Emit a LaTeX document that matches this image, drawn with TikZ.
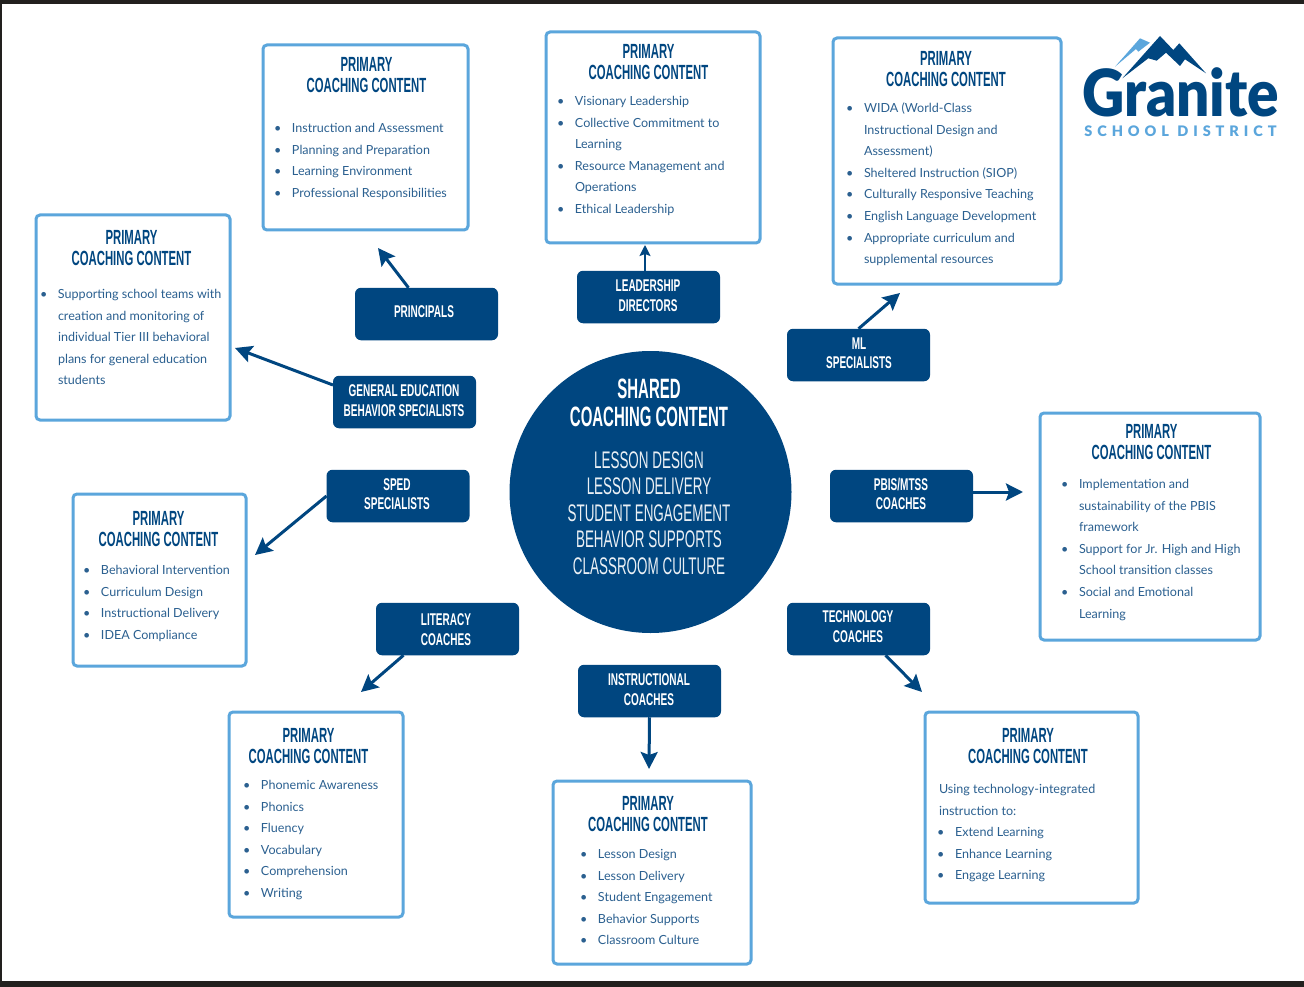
\documentclass[tikz,border=0pt]{standalone}
\usepackage{fontspec}
\setmainfont{Lato}
\newfontfamily\bebas[FakeStretch=0.56]{Liberation Sans}
\newfontfamily\bebasb[FakeStretch=0.553]{Liberation Sans Bold}
\newfontfamily\bebasr[FakeStretch=0.59]{Liberation Sans Bold}
\newfontfamily\bebasc[FakeStretch=0.535]{Liberation Sans Bold}
\newfontfamily\logofont{Lato Black}
\newfontfamily\logosub[LetterSpace=34]{Lato Black}
\usetikzlibrary{arrows.meta,calc}
\definecolor{navy}{HTML}{004680}
\definecolor{sky}{HTML}{5BA6DC}
\definecolor{bodyblue}{HTML}{2B6090}
\definecolor{frame}{HTML}{22201E}
\newcommand{\bl}{\leavevmode\llap{\textbullet\hspace{10.5pt}}}
\tikzset{
  every node/.style={inner sep=0pt,outer sep=0pt},
  contentbox/.style={draw=sky,line width=3pt,rounded corners=4pt,fill=white},
  rolebox/.style={fill=navy,rounded corners=6pt,minimum width=143pt,minimum height=52.5pt},
  roletext/.style={text=white,align=center,font=\fontsize{17}{19.5}\selectfont\bebasr},
  coachtitle/.style={text=navy,align=center,font=\fontsize{20.5}{20.8}\selectfont\bebasb},
  bodytext/.style={text=bodyblue,align=left,anchor=north west,yshift=10.8pt,font=\fontsize{12.55}{21.65}\selectfont},
  flow/.style={draw=navy,line width=3pt,-{Stealth[length=17pt,width=17pt,inset=3pt]}}
}
\newcommand{\cbox}[5]{\path[contentbox] (#2,#3) rectangle (#4,#5) node[pos=0.5] (#1) {};}
\begin{document}
\begin{tikzpicture}[x=1pt,y=-1pt]
\useasboundingbox (0,0) rectangle (1304,987);
\fill[white] (0,0) rectangle (1304,987);
\fill[frame] (0,0) rectangle (1304,4);
\fill[frame] (0,981) rectangle (1304,987);
\fill[frame] (0,0) rectangle (2,987);

% content boxes
\cbox{bPrin}{263}{45}{468}{230}
\cbox{bLead}{546}{32}{760}{243}
\cbox{bMl}{833}{38}{1061}{284}
\cbox{bGen}{36}{215}{230}{420}
\cbox{bPbis}{1040}{413}{1260}{640}
\cbox{bSped}{73}{494}{246}{666}
\cbox{bLit}{229}{712}{403}{917}
\cbox{bIns}{553}{781}{751}{964}
\cbox{bTech}{925}{712}{1138}{903}

% titles
\node[coachtitle] (tPrin) at (366.5,75) {PRIMARY\\COACHING CONTENT};
\node[coachtitle] (tLead) at (648.5,62) {PRIMARY\\COACHING CONTENT};
\node[coachtitle] (tMl) at (946,69) {PRIMARY\\COACHING CONTENT};
\node[coachtitle] (tGen) at (131.5,248) {PRIMARY\\COACHING CONTENT};
\node[coachtitle] (tPbis) at (1151.5,442) {PRIMARY\\COACHING CONTENT};
\node[coachtitle] (tSped) at (158.5,529) {PRIMARY\\COACHING CONTENT};
\node[coachtitle] (tLit) at (308.5,746) {PRIMARY\\COACHING CONTENT};
\node[coachtitle] (tIns) at (648,814) {PRIMARY\\COACHING CONTENT};
\node[coachtitle] (tTech) at (1028,746) {PRIMARY\\COACHING CONTENT};

% body texts
\node[bodytext] (xPrin) at (292,128) {\strut\bl Instruction and Assessment\\\bl Planning and Preparation\\\bl Learning Environment\\\bl Professional Responsibilities};
\node[bodytext] (xLead) at (575,101) {\strut\bl Visionary Leadership\\\bl Collective Commitment to\\Learning\\\bl Resource Management and\\Operations\\\bl Ethical Leadership};
\node[bodytext] (xMl) at (864,108) {\strut\bl WIDA (World-Class\\Instructional Design and\\Assessment)\\\bl Sheltered Instruction (SIOP)\\\bl Culturally Responsive Teaching\\\bl English Language Development\\\bl Appropriate curriculum and\\supplemental resources};
\node[bodytext] (xGen) at (58,294) {\strut\bl Supporting school teams with\\creation and monitoring of\\individual Tier III behavioral\\plans for general education\\students};
\node[bodytext] (xPbis) at (1079,484) {\strut\bl Implementation and\\sustainability of the PBIS\\framework\\\bl Support for Jr. High and High\\School transition classes\\\bl Social and Emotional\\Learning};
\node[bodytext] (xSped) at (101,570) {\strut\bl Behavioral Intervention\\\bl Curriculum Design\\\bl Instructional Delivery\\\bl IDEA Compliance};
\node[bodytext] (xLit) at (261,785) {\strut\bl Phonemic Awareness\\\bl Phonics\\\bl Fluency\\\bl Vocabulary\\\bl Comprehension\\\bl Writing};
\node[bodytext] (xIns) at (598,854) {\strut\bl Lesson Design\\\bl Lesson Delivery\\\bl Student Engagement\\\bl Behavior Supports\\\bl Classroom Culture};
\node[bodytext] (xTech) at (939,789) {\strut Using technology-integrated\\instruction to:\\\hspace*{16pt}\bl Extend Learning\\\hspace*{16pt}\bl Enhance Learning\\\hspace*{16pt}\bl Engage Learning};

% centre
\node[circle,fill=navy,minimum size=282pt] (hub) at (650.5,492) {};
\node[text=white,align=center,font=\fontsize{28}{28}\selectfont\bebasc] (hubT) at (649,403) {SHARED\\COACHING CONTENT};
\node[text=white!92!navy,align=center,font=\fontsize{24}{26.6}\selectfont\bebas] (hubL) at (649,513) {LESSON DESIGN\\LESSON DELIVERY\\STUDENT ENGAGEMENT\\BEHAVIOR SUPPORTS\\CLASSROOM CULTURE};

% role boxes
\node[rolebox] (rPrin) at (426.5,314) {};
\node[roletext] (lPrin) at (424,312) {PRINCIPALS};
\node[rolebox] (rLead) at (648.5,297) {};
\node[roletext] (lLead) at (648,295.5) {LEADERSHIP\\DIRECTORS};
\node[rolebox] (rMl) at (858.5,355) {};
\node[roletext] (lMl) at (859,353) {ML\\SPECIALISTS};
\node[rolebox] (rGen) at (404.5,402) {};
\node[roletext] (lGen) at (404,400.5) {GENERAL EDUCATION\\BEHAVIOR SPECIALISTS};
\node[rolebox] (rSped) at (398,496) {};
\node[roletext] (lSped) at (397,494) {SPED\\SPECIALISTS};
\node[rolebox] (rPbis) at (901.5,496) {};
\node[roletext] (lPbis) at (901,494) {PBIS/MTSS\\COACHES};
\node[rolebox] (rLit) at (447.5,629) {};
\node[roletext] (lLit) at (446,629.5) {LITERACY\\COACHES};
\node[rolebox] (rTech) at (858.5,629) {};
\node[roletext] (lTech) at (858,626.5) {TECHNOLOGY\\COACHES};
\node[rolebox] (rIns) at (649.5,691) {};
\node[roletext] (lIns) at (649,689.5) {INSTRUCTIONAL\\COACHES};

% connector ends
\coordinate (eIns) at (649,769);
\coordinate (ePrin) at (378,248);
\coordinate (eLead) at (645,245);
\coordinate (eMl) at (900,293);
\coordinate (eGen) at (235,348);
\coordinate (eSped) at (255,555);
\coordinate (ePbis) at (1023,492);
\coordinate (eLit) at (361,692);
\coordinate (eTech) at (922,692);

\draw[flow] ($(rPrin.north)+(-18,0)$) -- (ePrin);
\draw[flow,line width=2pt,-{Stealth[length=11pt,width=11pt,inset=2pt]}] (rLead.north -| eLead) -- (eLead);
\draw[flow] (rMl.north) -- (eMl);
\draw[flow] ($(rGen.west)+(0,-17)$) -- (eGen);
\draw[flow] (rSped.west) -- (eSped);
\draw[flow] (rPbis.east |- ePbis) -- (ePbis);
\draw[flow] ($(rLit.south)+(-44,0)$) -- (eLit);
\draw[flow] ($(rTech.south)+(27,0)$) -- (eTech);
\draw[flow] (rIns.south) -- (eIns);

% logo
\fill[sky] (1115,66.7) -- (1140,38.3) -- (1150,42.7) -- (1138.3,51.7) -- (1136,49) -- cycle;
\fill[navy] (1122.3,78.3) -- (1160,36) -- (1173.3,50) -- (1179.3,43.3) -- (1206,73.3) -- (1185,59.3) -- (1180,66) -- (1166,52.7) -- (1156.7,60.7) -- (1148.3,58.3) -- cycle;
\node[text=navy] (logoA) at (1180.5,92.5) {\scalebox{0.9}[1]{\fontsize{65}{65}\selectfont\logofont Granite}};
\node[text=sky] (logoB) at (1180.5,131) {\fontsize{14.5}{15}\selectfont\logosub SCHOOL DISTRICT};
\end{tikzpicture}
\end{document}
